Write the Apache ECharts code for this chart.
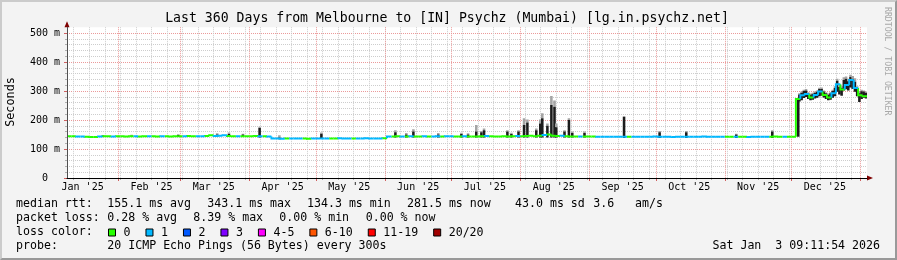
<!DOCTYPE html>
<html><head><meta charset="utf-8">
<script src="https://cdn.jsdelivr.net/npm/echarts@6/dist/echarts.min.js"></script>
<style>
html,body{margin:0;padding:0;background:#f3f3f3;}
#chart{position:absolute;left:0;top:0;width:897px;height:260px;}
#frame{position:absolute;left:0;top:0;width:897px;height:260px;box-sizing:border-box;border-top:2px solid #cbcbcb;border-left:2px solid #cbcbcb;border-right:2px solid #999;border-bottom:2px solid #999;pointer-events:none;}
</style></head><body>
<div id="chart"></div><div id="frame"></div>
<script>
// ---------------- data ----------------
const TITLE = 'Last 360 Days from Melbourne to [IN] Psychz (Mumbai) [lg.in.psychz.net]';
const DAY = 86400000;
const START = Date.UTC(2025, 0, 8, 23, 30, 0);
const END = START + 360 * DAY;
const BUCKET_DAYS = 2;

// median rtt (ms), one value per 2-day bucket
const medianRtt = [
  144,144,143,143,142,141,141,143,144,144,
  143,144,144,143,144,144,143,144,144,144,
  143,144,144,143,144,144,144,145,144,144,
  144,145,147,145,146,147,145,144,144,144,
  144,144,145,144,144,143,136,136,135,136,
  136,136,136,136,135,136,136,136,136,136,
  136,137,136,136,136,136,136,137,136,136,
  136,137,143,143,144,143,143,144,143,143,
  144,143,143,144,143,144,144,143,143,144,
  143,143,143,144,145,144,143,143,144,143,
  144,145,144,145,146,144,146,148,150,146,
  145,146,144,143,143,143,143,143,143,142,
  142,142,142,142,142,142,142,142,142,142,
  142,142,143,142,142,142,141,142,142,142,
  142,142,142,143,142,142,142,142,142,142,
  142,142,142,141,142,142,142,142,142,143,
  142,142,142,142,272,285,290,278,286,298,
  286,278,292,323,305,321,338,310,285,282
];
// loss level index per bucket (0 = no loss, 1 = 1 lost ping)
const lossLevel = [
  0,0,1,1,0,0,0,1,0,0,
  1,0,0,0,0,1,0,0,1,0,
  0,1,0,0,0,0,1,0,0,1,
  1,0,0,1,1,1,0,0,1,0,
  0,0,0,1,0,1,1,1,1,0,
  1,1,1,0,0,1,1,1,1,0,
  0,1,1,1,0,1,1,1,1,1,
  1,0,1,0,0,1,0,1,0,0,
  1,0,1,1,0,1,1,0,0,1,
  0,0,0,0,1,0,0,0,0,0,
  0,1,0,0,0,0,0,1,0,0,
  0,1,0,0,0,1,0,0,0,1,
  1,1,1,1,1,1,0,1,1,1,
  1,1,1,1,1,1,1,1,1,1,
  1,1,1,1,1,1,1,1,0,0,
  1,0,0,1,1,1,1,1,0,0,
  0,1,0,0,0,1,1,0,1,1,
  0,0,1,1,0,1,1,1,0,0
];
// smoke: [day offset, low ms, dense-smoke top ms, light-smoke top ms]
const smokeSpikes = [
  [15.6,141,146,148],[28.5,141,146,149],[49.5,141,148,151],[67.0,142,150,154],
  [72.3,142,152,157],[78.6,142,150,153],[86.1,140,172,177],[95.0,134,140,147],
  [113.9,135,153,157],[147.2,140,158,165],[152.1,140,150,155],[155.3,140,160,168],
  [166.5,140,150,155],[176.9,140,152,156],[179.9,140,150,154],[183.6,140,160,183],
  [185.9,140,158,162],[187.1,140,165,171],[197.6,140,160,165],[199.4,140,152,156],
  [202.6,140,160,165],[205.1,140,183,206],[206.6,140,191,202],[210.6,140,165,171],
  [212.4,140,188,202],[213.3,140,206,223],[215.6,140,180,188],[217.4,140,252,283],
  [218.8,140,246,267],[219.6,140,175,188],[223.3,140,160,165],[225.3,140,200,206],
  [226.8,140,155,160],[232.3,140,155,160],[250.1,138,210,214],[266.1,138,158,162],
  [278.1,138,158,162],[300.6,138,150,153],[316.8,138,160,165],
  [328.5,142,272,274],[329,264,288,292],[330,268,294,298],[331,276,300,304],
  [332,279,302,307],[333,272,292,296],[334,268,287,291],[335,270,290,294],
  [336,274,294,298],[337,277,297,302],[338,282,307,311],[339,284,307,312],
  [340,278,298,302],[341,272,292,296],[342,268,287,291],[343,270,292,296],
  [344,277,300,304],[345,282,310,316],[346,297,335,342],[347,288,314,320],
  [348,284,310,316],[349,302,338,347],[350,306,342,350],[351,302,334,342],
  [352,312,348,356],[353,307,342,352],[354,297,332,344],[355,282,308,316],
  [356,262,292,298],[357,272,299,304],[358,277,298,302],[359,274,294,298]
];
const monthLabels = ["Jan '25","Feb '25","Mar '25","Apr '25","May '25","Jun '25",
                     "Jul '25","Aug '25","Sep '25","Oct '25","Nov '25","Dec '25"];
const yTicks = [0,100,200,300,400,500];
const yMinorTicks = [0,20,40,60,80,100,120,140,160,180,200,220,240,260,280,300,320,340,360,380,400,420,440,460,480,500];
const lossNames = ['0','1','2','3','4-5','6-10','11-19','20/20'];
const lossColors = ['#26ff00','#00b8ff','#0059ff','#7e00ff','#ff00ff','#ff5500','#ff0000','#a10000'];
const rttStats = ['155.1 ms avg','343.1 ms max','134.3 ms min','281.5 ms now','43.0 ms sd','3.6','am/s'];
const lossStats = ['0.28 % avg','8.39 % max','0.00 % min','0.00 % now'];
const probeText = '20 ICMP Echo Pings (56 Bytes) every 300s';
const stampText = 'Sat Jan  3 09:11:54 2026';
const watermark = 'RRDTOOL / TOBI OETIKER';

// ---------------- build ----------------
const MONO = 'DejaVu Sans Mono';
const weekTicks = [];
for (let t = Date.UTC(2025,0,12); t <= END; t += 7*DAY) weekTicks.push(t);
const monthTicks = [];
for (let m = 1; m <= 12; m++) monthTicks.push(Date.UTC(2025, m, 1));
const labelTicks = monthLabels.map((_, m) => Date.UTC(2025, m, 16));
function monthLabel(v) {
  const i = labelTicks.findIndex(t => Math.abs(t - v) < DAY);
  return i >= 0 ? monthLabels[i] : '';
}

const SMOKE_W = 1.15;
const smokeData = smokeSpikes.map(s => [START + s[0]*DAY, START + (s[0]+SMOKE_W)*DAY, s[1], s[2], s[3]]);
const medianByLevel = lossNames.map(() => []);
medianRtt.forEach((v, i) => {
  const t0 = START + i*BUCKET_DAYS*DAY;
  medianByLevel[lossLevel[i]].push([t0, v, i > 0 ? medianRtt[i-1] : v, t0 + BUCKET_DAYS*DAY]);
});

function renderSmoke(params, api) {
  const lo = api.coord([api.value(0), api.value(2)]);
  const co = api.coord([api.value(1), api.value(3)]);
  const hi = api.coord([api.value(1), api.value(4)]);
  const x = lo[0], w = Math.max(1, co[0] - lo[0]);
  return {type: 'group', children: [
    {type: 'rect', shape: {x: x, y: hi[1], width: w, height: co[1] - hi[1]}, style: {fill: '#a4a4a4'}},
    {type: 'rect', shape: {x: x, y: co[1], width: w, height: lo[1] - co[1]}, style: {fill: '#1c1c1c'}}
  ]};
}
function renderMedian(params, api) {
  const p0 = api.coord([api.value(0), api.value(2)]);
  const p1 = api.coord([api.value(0), api.value(1)]);
  const p2 = api.coord([api.value(3), api.value(1)]);
  return {type: 'polyline', shape: {points: [p0, p1, p2]},
          style: {stroke: api.visual('color'), lineWidth: 2, fill: null}};
}

const series = [{
  type: 'custom', name: 'smoke', renderItem: renderSmoke, data: smokeData,
  xAxisIndex: 0, yAxisIndex: 0, clip: true, z: 2, silent: true
}];
lossNames.forEach((n, L) => series.push({
  type: 'custom', name: n, renderItem: renderMedian, data: medianByLevel[L],
  xAxisIndex: 0, yAxisIndex: 0, clip: true, z: 3, silent: true,
  itemStyle: {color: lossColors[L]}
}));

function txt(x, y, text, o) {
  o = o || {};
  return {type: 'text', x: x, y: y, rotation: o.rot || 0, silent: true, z: 10,
    style: {text: text, fill: o.color || '#000', fontFamily: MONO, fontSize: o.size || 11.6,
      align: o.align || 'left', textAlign: o.align || 'left',
      verticalAlign: 'middle', textVerticalAlign: 'middle'}};
}
const rowY = [204.3, 218.3, 232.3, 246];
const rttX = [107.3, 207.3, 307, 407, 515, 593.3, 635];
const lossX = [107.3, 193.3, 279.3, 365.7];
const graphics = [
  txt(447, 19, TITLE, {size: 13.2, align: 'center'}),
  txt(10.8, 102, 'Seconds', {size: 11.8, align: 'center', rot: Math.PI/2}),
  txt(887, 7, watermark, {size: 8.2, color: '#a8a8a8', rot: -Math.PI/2}),
  txt(16, rowY[0], 'median rtt:'),
  txt(16, rowY[1], 'packet loss:'),
  txt(16, rowY[2], 'loss color:'),
  txt(16, rowY[3], 'probe:'),
  txt(107.3, rowY[3], probeText),
  txt(880, rowY[3], stampText, {align: 'right'})
];
rttStats.forEach((s, i) => graphics.push(txt(rttX[i], rowY[0], s)));
lossStats.forEach((s, i) => graphics.push(txt(lossX[i], rowY[1], s)));

const minorGrid = {show: true, lineStyle: {color: '#cdcdcd', type: [1,1], width: 1}};
const majorGrid = {show: true, lineStyle: {color: '#eb9a9a', type: [1,1], width: 1}};
const arrowLine = {show: true, onZero: false, symbol: ['none','triangle'], symbolSize: [5,6], symbolOffset: [0,3],
                   lineStyle: {color: '#7f0000', width: 1}};

const option = {
  animation: false,
  backgroundColor: 'transparent',
  grid: {left: 67, right: 30, top: 27.2, bottom: 82, show: true, backgroundColor: '#ffffff',
         borderWidth: 0, containLabel: false, outerBoundsMode: 'none'},
  xAxis: [
    {type: 'value', position: 'bottom', min: START, max: END, axisLine: arrowLine,
     axisTick: {show: true, length: 2, customValues: weekTicks, lineStyle: {color: '#b0b0b0'}},
     axisLabel: {show: false}, splitLine: minorGrid},
    {type: 'value', position: 'bottom', min: START, max: END, axisLine: {show: false, onZero: false},
     axisTick: {show: true, length: 3, customValues: monthTicks, lineStyle: {color: '#d06060'}},
     axisLabel: {show: false}, splitLine: majorGrid},
    {type: 'value', position: 'bottom', min: START, max: END, z: 5,
     axisLine: {show: true, onZero: false, lineStyle: {color: '#000', width: 1}},
     axisTick: {show: false},
     axisLabel: {show: true, customValues: labelTicks, formatter: monthLabel, fontFamily: MONO,
                 fontSize: 10, color: '#000', margin: 4},
     splitLine: {show: false}}
  ],
  yAxis: [
    {type: 'value', position: 'left', min: 0, max: 520, axisLine: arrowLine,
     axisTick: {show: true, length: 2, customValues: yMinorTicks, lineStyle: {color: '#b0b0b0'}},
     axisLabel: {show: false}, splitLine: minorGrid},
    {type: 'value', position: 'left', min: 0, max: 520, axisLine: {show: false, onZero: false},
     axisTick: {show: true, length: 3, customValues: yTicks, lineStyle: {color: '#d06060'}},
     axisLabel: {show: false}, splitLine: majorGrid},
    {type: 'value', position: 'left', min: 0, max: 520, z: 5,
     axisLine: {show: true, onZero: false, lineStyle: {color: '#505050', width: 1}},
     axisTick: {show: false},
     axisLabel: {show: true, customValues: yTicks, formatter: v => v === 0 ? '0  ' : v + ' m',
                 fontFamily: MONO, fontSize: 10, color: '#000', margin: 7},
     splitLine: {show: false}}
  ],
  legend: {data: lossNames, left: 108, top: 225.5, orient: 'horizontal', padding: 0, itemGap: 15,
           itemWidth: 7, itemHeight: 7, icon: 'rect', selectedMode: false,
           itemStyle: {borderColor: '#000', borderWidth: 1},
           textStyle: {fontFamily: MONO, fontSize: 11.6, color: '#000', lineHeight: 14, padding: [0,0,0,3]}},
  graphic: graphics,
  series: series
};
const chart = echarts.init(document.getElementById('chart'), null, {renderer: 'canvas'});
chart.setOption(option);
</script>
</body></html>
